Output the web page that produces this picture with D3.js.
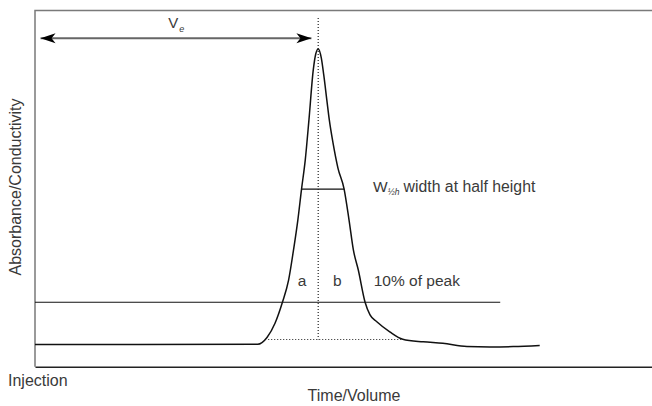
<!DOCTYPE html>
<meta charset="utf-8">
<style>
body { margin: 0; background: #fff; }
text { font-family: "Liberation Sans", Arial, sans-serif; fill: #3a3a3a; }
.frame { fill: none; stroke: #7a7a7a; stroke-width: 1.5px; }
.axis path { stroke: #222; stroke-width: 1.6px; }
.peak { fill: none; stroke: #111; stroke-width: 1.5px; }
.guide { fill: none; stroke: #111; stroke-width: 1.2px; }
.dotted { fill: none; stroke: #222; stroke-width: 1.2px; stroke-dasharray: 1,2; }
.arrow { stroke: #666; stroke-width: 2px; }
</style>
<svg width="652" height="406"></svg>
<script src="https://d3js.org/d3.v7.min.js"></script>
<script>

// elution profile (x: time/volume, y: signal, peak = 100)
var volume = [0, 36.1, 37.6, 38.9, 40.1, 41.1, 41.9, 42.6, 43.2, 43.8, 44.4, 45.1, 45.5, 45.9,
              46.4, 46.8, 47.3, 47.7, 48.3, 49.1, 50.1, 50.9, 51.6, 52.4, 53.5, 54.3, 55.4,
              57.5, 59.6, 62.9, 66.1, 70.0, 73.7, 77.5, 81.8];
var signal = [0, 0.1, 2.4, 7.2, 14.3, 21.8, 32.0, 42.1, 52.6, 62.4, 76.0, 92.9, 98.3, 100,
              97.0, 91.2, 82.7, 76.0, 68.2, 59.7, 52.6, 42.1, 32.0, 25.2, 14.3, 10.0, 7.7,
              4.3, 1.8, 0.9, 0.4, -0.7, -0.8, -0.7, -0.3];

var peakX = 45.9;
var halfHeight = 52.6, halfLeft = 43.2, halfRight = 50.1;
var tenPct = 14.3, tenEnd = 75.4;
var dotBase = 1.7, dotLeft = 37.8, dotRight = 59.6;
var arrowY = 103.6, arrowFrom = 0.9, arrowTo = 44.8;

var svg = d3.select("svg"),
    width = +svg.attr("width"),
    height = +svg.attr("height");

var x = d3.scaleLinear().domain([0, 100]).range([35, 652]);
var y = d3.scaleLinear().domain([-7.5, 113]).range([366.7, 10.5]);

var defs = svg.append("defs");
defs.append("marker")
    .attr("id", "head")
    .attr("viewBox", "0 -6 16 12")
    .attr("refX", 15).attr("refY", 0)
    .attr("markerWidth", 16).attr("markerHeight", 12)
    .attr("markerUnits", "userSpaceOnUse")
    .attr("orient", "auto-start-reverse")
  .append("path")
    .attr("d", "M0,-5L15,0L0,5L4,0Z")
    .attr("fill", "#000");

// frame: top and left in grey, bottom as the time axis
svg.append("path")
    .attr("class", "frame")
    .attr("d", "M" + x(0) + "," + y(-7.5) + "V" + y(113) + "H" + x(100));

svg.append("g")
    .attr("class", "axis")
    .attr("transform", "translate(0," + y(-7.5) + ")")
    .call(d3.axisBottom(x).tickValues([]).tickSizeOuter(0));

var line = d3.line()
    .x(function(d, i) { return x(volume[i]); })
    .y(function(d) { return y(d); })
    .curve(d3.curveMonotoneX);

svg.append("path")
    .datum(signal)
    .attr("class", "peak")
    .attr("d", line);

// guides
svg.append("line").attr("class", "guide")
    .attr("x1", x(halfLeft)).attr("x2", x(halfRight))
    .attr("y1", y(halfHeight)).attr("y2", y(halfHeight));

svg.append("line").attr("class", "guide")
    .attr("x1", x(0)).attr("x2", x(tenEnd))
    .attr("y1", y(tenPct)).attr("y2", y(tenPct));

svg.append("line").attr("class", "dotted")
    .attr("x1", x(peakX)).attr("x2", x(peakX))
    .attr("y1", y(110.5)).attr("y2", y(dotBase));

svg.append("line").attr("class", "dotted")
    .attr("x1", x(dotLeft)).attr("x2", x(dotRight))
    .attr("y1", y(dotBase)).attr("y2", y(dotBase));

svg.append("line").attr("class", "arrow")
    .attr("x1", x(arrowFrom)).attr("x2", x(arrowTo))
    .attr("y1", y(arrowY)).attr("y2", y(arrowY))
    .attr("marker-start", "url(#head)")
    .attr("marker-end", "url(#head)");

// labels
var ve = svg.append("text")
    .attr("x", x(21.6)).attr("y", y(107.1))
    .style("font-size", "15px")
    .text("V");
ve.append("tspan")
    .attr("dx", 1).attr("dy", 4)
    .style("font-size", "9px").style("font-style", "italic")
    .text("e");

var w = svg.append("text")
    .attr("x", x(54.8)).attr("y", y(51.7))
    .style("font-size", "15.5px")
    .text("W");
w.append("tspan")
    .attr("dy", 3)
    .style("font-size", "8.5px").style("font-style", "italic")
    .text("½h");
w.append("tspan")
    .attr("dx", 4).attr("dy", -3)
    .style("font-size", "15.8px")
    .text("width at half height");

svg.append("text")
    .attr("x", x(42.6)).attr("y", y(19.8))
    .style("font-size", "15.5px")
    .text("a");

svg.append("text")
    .attr("x", x(48.3)).attr("y", y(19.8))
    .style("font-size", "15.5px")
    .text("b");

svg.append("text")
    .attr("x", x(54.9)).attr("y", y(19.8))
    .style("font-size", "15.5px")
    .text("10% of peak");

svg.append("text")
    .attr("x", 8).attr("y", 386)
    .style("font-size", "16px")
    .text("Injection");

svg.append("text")
    .attr("x", 354).attr("y", 401)
    .attr("text-anchor", "middle")
    .style("font-size", "16px")
    .text("Time/Volume");

svg.append("text")
    .attr("transform", "translate(21," + 187 + ")rotate(-90)")
    .attr("text-anchor", "middle")
    .style("font-size", "16px")
    .text("Absorbance/Conductivity");

</script>
